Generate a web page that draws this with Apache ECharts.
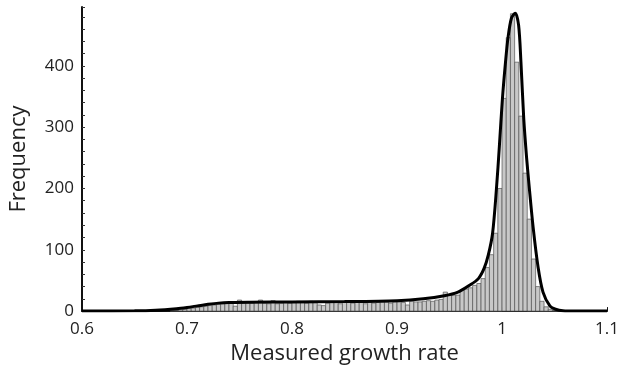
<!DOCTYPE html>
<html>
<head>
<meta charset="utf-8">
<script src="https://cdn.jsdelivr.net/npm/echarts@6/dist/echarts.min.js"></script>
<style>
  html, body { margin: 0; padding: 0; background: #ffffff; }
  #chart { width: 622px; height: 370px; }
</style>
</head>
<body>
<div id="chart"></div>
<script>
// histogram bins: left edge of first bin and bin width
var binStart = 0.684;
var binWidth = 0.004;
// counts per bin
var binCounts = [
  1, 1, 2, 3, 4, 5, 6, 7, 8, 9,
  10, 11, 12, 13, 13, 8, 18, 13, 13, 13,
  14, 18, 13, 12, 17, 12, 13, 14, 13, 14,
  16, 14, 13, 16, 14, 10, 9, 13, 14, 14,
  12, 14, 14, 13, 15, 14, 12, 15, 13, 14,
  15, 15, 13, 15, 15, 14, 10, 16, 15, 15,
  16, 17, 16, 18, 19, 31, 27, 26, 26, 35,
  36, 38, 42, 45, 53, 71, 92, 127, 200, 347,
  446, 485, 406, 318, 225, 150, 85, 40, 16, 7,
  3, 1, 1
];
// fitted curve
var fitX = [0.60, 0.65, 0.67, 0.69, 0.70, 0.71, 0.72, 0.73, 0.74, 0.76, 0.80, 0.85, 0.90, 0.925, 0.945, 0.958, 0.969, 0.9775, 0.983, 0.987, 0.991, 0.9947, 0.9975, 1.0004, 1.0033, 1.0057, 1.0090, 1.0126, 1.0158, 1.0180, 1.0207, 1.0234, 1.0258, 1.0296, 1.0343, 1.039, 1.0457, 1.051, 1.058, 1.07, 1.10];
var fitY = [0, 0.5, 1.5, 4, 6, 8.5, 11, 13, 14, 14.5, 15, 15.5, 17, 20, 25, 31, 42, 53, 70, 92, 127, 200, 270, 347, 406, 446, 478, 486, 466, 406, 313, 250, 204, 137, 72, 31, 8, 3, 0.5, 0, 0];
var xTicks = [0.6, 0.7, 0.8, 0.9, 1.0, 1.1];

var chart = echarts.init(document.getElementById('chart'));

var histData = [];
for (var i = 0; i < binCounts.length; i++) {
  var x0 = binStart + i * binWidth;
  histData.push([x0, x0 + binWidth, binCounts[i]]);
}
var fitData = [];
for (var j = 0; j < fitX.length; j++) {
  fitData.push([fitX[j], fitY[j]]);
}

var fontName = 'Open Sans';

var option = {
  animation: false,
  backgroundColor: '#ffffff',
  grid: {
    left: 80,
    right: 10,
    top: 7,
    bottom: 58
  },
  xAxis: {
    type: 'value',
    min: xTicks[0],
    max: xTicks[xTicks.length - 1],
    interval: 0.1,
    name: 'Measured growth rate',
    nameLocation: 'middle',
    nameGap: 31,
    nameTextStyle: { fontFamily: fontName, fontSize: 22, color: '#222' },
    axisLine: { lineStyle: { color: '#111', width: 2 } },
    axisTick: { show: true, inside: true, length: 4, lineStyle: { color: '#111' } },
    axisLabel: {
      fontFamily: fontName, fontSize: 17, color: '#222', margin: 10,
      formatter: function (v) { return String(Math.round(v * 10) / 10); }
    },
    splitLine: { show: false }
  },
  yAxis: {
    type: 'value',
    min: 0,
    max: 496,
    interval: 20,
    name: 'Frequency',
    nameLocation: 'middle',
    nameGap: 52,
    nameTextStyle: { fontFamily: fontName, fontSize: 22, color: '#222' },
    axisLine: { show: true, lineStyle: { color: '#111', width: 2 } },
    axisTick: { show: true, inside: true, length: 3, lineStyle: { color: '#333' } },
    axisLabel: {
      fontFamily: fontName, fontSize: 17, color: '#222', margin: 8,
      formatter: function (v) { return (v % 100 === 0) ? v : ''; }
    },
    splitLine: { show: false }
  },
  series: [
    {
      type: 'custom',
      data: histData,
      encode: { x: [0, 1], y: 2 },
      renderItem: function (params, api) {
        var p0 = api.coord([api.value(0), api.value(2)]);
        var p1 = api.coord([api.value(1), 0]);
        return {
          type: 'rect',
          shape: { x: p0[0], y: p0[1], width: p1[0] - p0[0], height: p1[1] - p0[1] },
          style: { fill: '#c8c8c8', stroke: '#555555', lineWidth: 0.7 }
        };
      },
      z: 2
    },
    {
      type: 'line',
      data: fitData,
      smooth: 0.3,
      showSymbol: false,
      lineStyle: { color: '#000000', width: 3 },
      z: 3
    }
  ]
};

chart.setOption(option, true);
window.addEventListener('resize', function () {
  chart.resize();
});
</script>
</body>
</html>
